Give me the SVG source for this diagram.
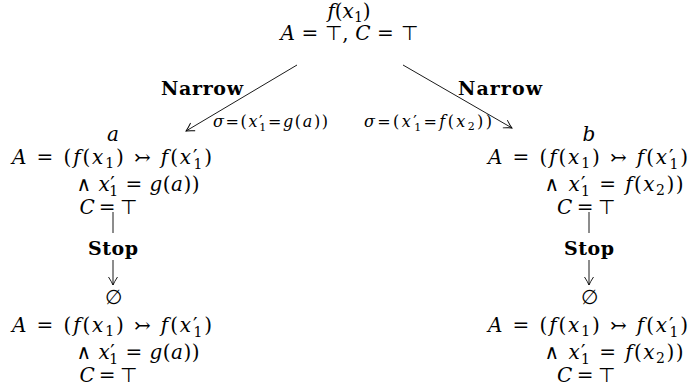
<svg xmlns="http://www.w3.org/2000/svg" width="691" height="390" viewBox="0 0 691 390">
<defs>
<style>
.m{font-family:"DejaVu Serif","Liberation Serif",serif;font-size:20px;fill:#000;text-anchor:middle}
.i{font-style:italic}
.s{font-size:14px}
.t{font-family:"DejaVu Sans",sans-serif;font-weight:200}
.l{font-family:"DejaVu Serif","Liberation Serif",serif;font-size:16px;fill:#000}
.ls{font-size:11px}
.b{font-family:"DejaVu Serif","Liberation Serif",serif;font-size:19px;font-weight:bold;fill:#000;text-anchor:middle}
.e{stroke:#000;stroke-width:0.9;fill:none}
</style>
<marker id="ah" markerUnits="userSpaceOnUse" markerWidth="12" markerHeight="12" viewBox="-10 -6 12 12" refX="0" refY="0" orient="auto">
<path d="M-8,-4.5 Q-3,-1.2 0,0 Q-3,1.2 -8,4.5" stroke="#000" stroke-width="0.9" fill="none"/>
</marker>
</defs>
<rect width="691" height="390" fill="#fff"/>

<g id="root">
<text class="m" x="349" y="18"><tspan class="i">f</tspan>(<tspan class="i">x</tspan><tspan class="s" dy="4">1</tspan><tspan dy="-4">)</tspan></text>
<text class="m" x="349" y="40" textLength="137" lengthAdjust="spacing"><tspan class="i">A</tspan> = <tspan class="t">⊤</tspan>, <tspan class="i">C</tspan> = <tspan class="t">⊤</tspan></text>
</g>

<g id="nodeA">
<text class="m" x="113" y="141"><tspan class="i">a</tspan></text>
<text class="m" x="112" y="164" textLength="200" lengthAdjust="spacing"><tspan class="i">A</tspan> = (<tspan class="i">f</tspan>(<tspan class="i">x</tspan><tspan class="s" dy="4">1</tspan><tspan dy="-4">) ↣ </tspan><tspan class="i">f</tspan>(<tspan class="i">x</tspan>′<tspan class="s" dx="-6" dy="5">1</tspan><tspan dy="-5">)</tspan></text>
<text class="m" x="138" y="191" textLength="123" lengthAdjust="spacing">∧ <tspan class="i">x</tspan>′<tspan class="s" dx="-6" dy="5">1</tspan><tspan dy="-5"> = </tspan><tspan class="i">g</tspan>(<tspan class="i">a</tspan>))</text>
<text class="m" x="108" y="214" textLength="57" lengthAdjust="spacing"><tspan class="i">C</tspan> = <tspan class="t">⊤</tspan></text>
</g>

<g id="nodeB">
<text class="m" x="589" y="141"><tspan class="i">b</tspan></text>
<text class="m" x="588" y="164" textLength="200" lengthAdjust="spacing"><tspan class="i">A</tspan> = (<tspan class="i">f</tspan>(<tspan class="i">x</tspan><tspan class="s" dy="4">1</tspan><tspan dy="-4">) ↣ </tspan><tspan class="i">f</tspan>(<tspan class="i">x</tspan>′<tspan class="s" dx="-6" dy="5">1</tspan><tspan dy="-5">)</tspan></text>
<text class="m" x="614" y="191" textLength="139" lengthAdjust="spacing">∧ <tspan class="i">x</tspan>′<tspan class="s" dx="-6" dy="5">1</tspan><tspan dy="-5"> = </tspan><tspan class="i">f</tspan>(<tspan class="i">x</tspan><tspan class="s" dy="4">2</tspan><tspan dy="-4">))</tspan></text>
<text class="m" x="586" y="214" textLength="58" lengthAdjust="spacing"><tspan class="i">C</tspan> = <tspan class="t">⊤</tspan></text>
</g>

<g id="nodeA2">
<text class="m" x="113" y="304">∅</text>
<text class="m" x="112" y="332" textLength="200" lengthAdjust="spacing"><tspan class="i">A</tspan> = (<tspan class="i">f</tspan>(<tspan class="i">x</tspan><tspan class="s" dy="4">1</tspan><tspan dy="-4">) ↣ </tspan><tspan class="i">f</tspan>(<tspan class="i">x</tspan>′<tspan class="s" dx="-6" dy="5">1</tspan><tspan dy="-5">)</tspan></text>
<text class="m" x="138" y="359" textLength="123" lengthAdjust="spacing">∧ <tspan class="i">x</tspan>′<tspan class="s" dx="-6" dy="5">1</tspan><tspan dy="-5"> = </tspan><tspan class="i">g</tspan>(<tspan class="i">a</tspan>))</text>
<text class="m" x="108" y="382" textLength="57" lengthAdjust="spacing"><tspan class="i">C</tspan> = <tspan class="t">⊤</tspan></text>
</g>

<g id="nodeB2">
<text class="m" x="589" y="304">∅</text>
<text class="m" x="588" y="332" textLength="200" lengthAdjust="spacing"><tspan class="i">A</tspan> = (<tspan class="i">f</tspan>(<tspan class="i">x</tspan><tspan class="s" dy="4">1</tspan><tspan dy="-4">) ↣ </tspan><tspan class="i">f</tspan>(<tspan class="i">x</tspan>′<tspan class="s" dx="-6" dy="5">1</tspan><tspan dy="-5">)</tspan></text>
<text class="m" x="614" y="359" textLength="139" lengthAdjust="spacing">∧ <tspan class="i">x</tspan>′<tspan class="s" dx="-6" dy="5">1</tspan><tspan dy="-5"> = </tspan><tspan class="i">f</tspan>(<tspan class="i">x</tspan><tspan class="s" dy="4">2</tspan><tspan dy="-4">))</tspan></text>
<text class="m" x="586" y="382" textLength="58" lengthAdjust="spacing"><tspan class="i">C</tspan> = <tspan class="t">⊤</tspan></text>
</g>

<g id="connectors">
<line class="e" x1="297" y1="65" x2="186" y2="131" marker-end="url(#ah)"/>
<line class="e" x1="403" y1="65" x2="512" y2="128" marker-end="url(#ah)"/>
<text class="b" x="202" y="95" textLength="82" lengthAdjust="spacing">Narrow</text>
<text class="b" x="500" y="95" textLength="84" lengthAdjust="spacing">Narrow</text>
<text class="l" x="213" y="127" textLength="115" lengthAdjust="spacing"><tspan class="i">σ</tspan>=(<tspan class="i">x</tspan>′<tspan class="ls" dx="-5" dy="4">1</tspan><tspan dy="-4">=</tspan><tspan class="i">g</tspan>(<tspan class="i">a</tspan>))</text>
<text class="l" x="364" y="127" textLength="128" lengthAdjust="spacing"><tspan class="i">σ</tspan>=(<tspan class="i">x</tspan>′<tspan class="ls" dx="-5" dy="4">1</tspan><tspan dy="-4">=</tspan><tspan class="i">f</tspan>(<tspan class="i">x</tspan><tspan class="ls" dy="3">2</tspan><tspan dy="-3">))</tspan></text>
<line class="e" x1="113" y1="212" x2="113" y2="233"/>
<text class="b" x="113" y="255" textLength="50" lengthAdjust="spacing">Stop</text>
<line class="e" x1="113" y1="260" x2="113" y2="285" marker-end="url(#ah)"/>
<line class="e" x1="589" y1="212" x2="589" y2="233"/>
<text class="b" x="589" y="255" textLength="50" lengthAdjust="spacing">Stop</text>
<line class="e" x1="589" y1="260" x2="589" y2="285" marker-end="url(#ah)"/>
</g>
</svg>
